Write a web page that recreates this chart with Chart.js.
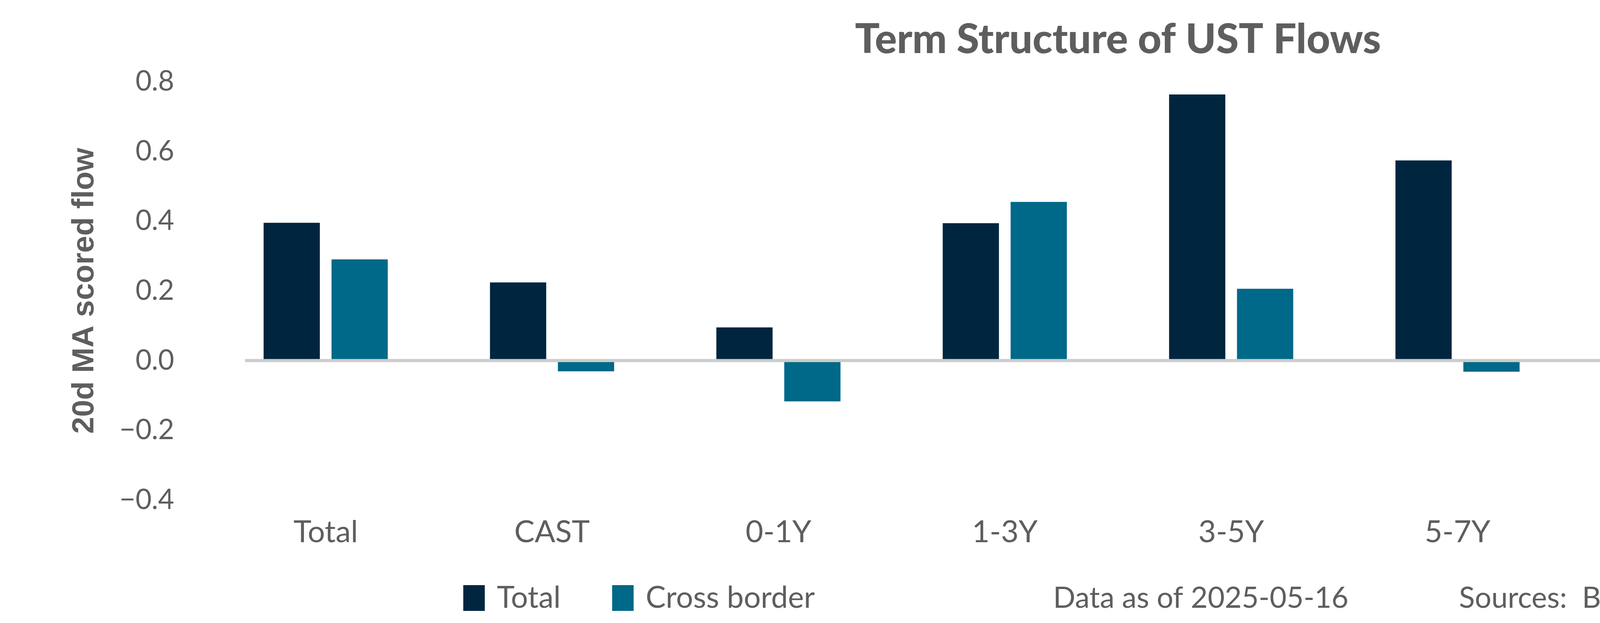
<!DOCTYPE html>
<html>
<head>
<meta charset="utf-8">
<script src="https://cdn.jsdelivr.net/npm/chart.js@4.4.1/dist/chart.umd.min.js"></script>
<style>
  html, body { margin: 0; padding: 0; background: #ffffff; }
  #wrap { width: 5400px; height: 1596px; }
</style>
</head>
<body>
<div id="wrap"><canvas id="flowChart" width="5400" height="1596"></canvas></div>
<script>
// Chart data
const categories = ['Total', 'CAST', '0-1Y', '1-3Y', '3-5Y', '5-7Y', '7-10Y', '10+Y'];
const totalFlow = [0.395, 0.224, 0.095, 0.394, 0.763, 0.574, 0.172, 0.712];
const crossBorderFlow = [0.290, -0.031, -0.117, 0.455, 0.206, -0.032, -0.375, 0.497];
const yTicks = [-0.4, -0.2, 0.0, 0.2, 0.4, 0.6, 0.8];
const seriesNames = ['Total', 'Cross border'];
const chartTitle = 'Term Structure of UST Flows';
const yTitle = '20d MA scored flow';
const dataNote = 'Data as of 2025-05-16';
const sourcesNote = 'Sources:  BNY, WM/Refinitiv, Bloomberg';

const GREY = '#5e5e5e';
const NAVY = '#00253f';
const TEAL = '#006888';

Chart.defaults.font.family = 'Lato, sans-serif';
Chart.defaults.color = GREY;

// formats the tick like 0.0 / −0.2
function fmtTick(v) {
    const r = Math.round(v * 10) / 10;
    const s = Math.abs(r).toFixed(1);
    return r < 0 ? '\u2212' + s : s;
}

// title centred over the plot area (not the whole canvas)
const plotTitle = {
    id: 'plotTitle',
    afterDraw(chart) {
        const {ctx, chartArea} = chart;
        ctx.save();
        ctx.font = '900 105px Lato, sans-serif';
        ctx.fillStyle = GREY;
        ctx.textAlign = 'center';
        ctx.textBaseline = 'alphabetic';
        ctx.fillText(chartTitle, (chartArea.left + chartArea.right) / 2, 136);
        ctx.restore();
    }
};

// grey line on zero, a bit shorter than the category band
const zeroLine = {
    id: 'zeroLine',
    afterDatasetsDraw(chart) {
        const {ctx, chartArea, scales} = chart;
        const y = scales.y.getPixelForValue(0);
        const step = scales.x.getPixelForValue(1) - scales.x.getPixelForValue(0);
        const inset = step * 0.1437;
        ctx.save();
        ctx.fillStyle = '#cccccc';
        ctx.fillRect(chartArea.left + inset, y - 4, chartArea.right - chartArea.left - 2 * inset, 8);
        ctx.restore();
    }
};

// legend + notes row at the bottom
const footer = {
    id: 'footer',
    afterDraw(chart) {
        const ctx = chart.ctx;
        const base = 1557;
        ctx.save();
        ctx.font = '400 77px Lato, sans-serif';
        ctx.textBaseline = 'alphabetic';
        ctx.textAlign = 'left';
        let x = 1186;
        chart.data.datasets.forEach(ds => {
            ctx.fillStyle = ds.backgroundColor;
            ctx.fillRect(x, 1499, 55, 66);
            ctx.fillStyle = GREY;
            ctx.fillText(ds.label, x + 86, base);
            x += 86 + ctx.measureText(ds.label).width + 132;
        });
        ctx.fillStyle = GREY;
        ctx.font = '400 75px Lato, sans-serif';
        ctx.textAlign = 'center';
        ctx.fillText(dataNote, 3074, base);
        ctx.textAlign = 'left';
        ctx.fillText(sourcesNote, 3735, base);
        ctx.restore();
    }
};

const ctx = document.getElementById('flowChart').getContext('2d');
new Chart(ctx, {
    type: 'bar',
    data: {
        labels: categories,
        datasets: [
            { label: seriesNames[0], data: totalFlow, backgroundColor: NAVY, categoryPercentage: 0.6, barPercentage: 0.828 },
            { label: seriesNames[1], data: crossBorderFlow, backgroundColor: TEAL, categoryPercentage: 0.6, barPercentage: 0.828 }
        ]
    },
    options: {
        responsive: false,
        devicePixelRatio: 1,
        animation: false,
        layout: { padding: { left: 0, right: 220, top: 209, bottom: 175 } },
        plugins: {
            legend: { display: false },
            tooltip: { enabled: false },
            title: { display: false }
        },
        scales: {
            x: {
                grid: { display: false },
                border: { display: false },
                ticks: { color: GREY, font: { size: 78 }, padding: 28 },
                afterFit(scale) { scale.height = 140; }
            },
            y: {
                min: -0.4,
                max: 0.8,
                grid: { display: false },
                border: { display: false },
                afterBuildTicks(scale) { scale.ticks = yTicks.map(v => ({ value: v })); },
                afterFit(scale) { scale.width = 544; },
                ticks: { color: GREY, font: { size: 71 }, padding: 90, callback: v => fmtTick(v) },
                title: {
                    display: true,
                    text: yTitle,
                    color: GREY,
                    font: { family: '"Liberation Sans", Arial, sans-serif', size: 78, weight: 'bold' },
                    padding: { top: 171, bottom: 0 }
                }
            }
        }
    },
    plugins: [zeroLine, plotTitle, footer]
});
</script>
</body>
</html>
